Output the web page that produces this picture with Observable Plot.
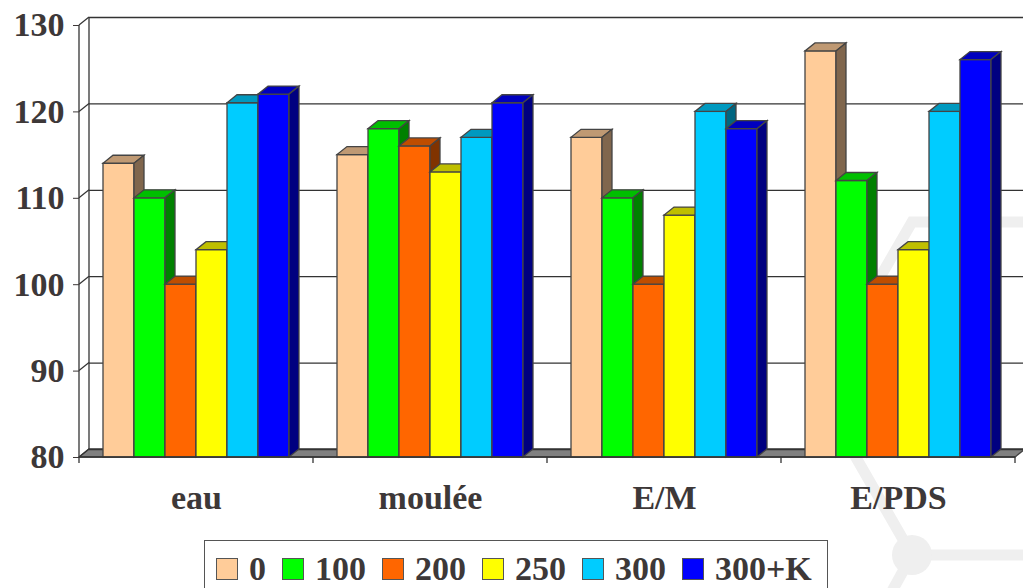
<!DOCTYPE html>
<html>
<head>
<meta charset="utf-8">
<script src="https://cdn.jsdelivr.net/npm/d3@7"></script>
<script src="https://cdn.jsdelivr.net/npm/@observablehq/plot@0.6"></script>
<style>
  html, body { margin: 0; padding: 0; background: #fff; }
  #wrap { position: relative; width: 1023px; height: 588px; overflow: hidden;
          font-family: "Liberation Serif", "Times New Roman", serif; }
  #wm { position: absolute; left: 0; top: 0; }
  #chart { position: absolute; left: 0; top: 0; }
  #legend { position: absolute; left: 204px; top: 540px; width: 624px; height: 70px;
            box-sizing: border-box; border: 1.5px solid #555; background: #fff;
            display: flex; align-items: flex-start; padding: 11px 0 0 11px;
            font-family: "Liberation Serif", serif; font-weight: bold; font-size: 34px;
            color: #3d3838; line-height: 34px; }
  .item { display: flex; align-items: center; margin-right: 16px; }
  .sw { width: 22px; height: 22px; box-sizing: border-box; border: 1.5px solid #555; margin-right: 11px; }
</style>
</head>
<body>
<div id="wrap">
  <svg id="wm" width="1023" height="588">
    <g fill="none" stroke="#efefef" stroke-width="11">
      <polygon points="912,222 816,388 912,555 1104,555 1200,388 1104,222"></polygon>
      <line x1="912" y1="555" x2="876" y2="620"></line>
    </g>
    <circle cx="912" cy="555" r="20" fill="#efefef"></circle>
  </svg>
  <div id="chart"></div>
  <div id="legend"></div>
</div>
<script>
// ---- data ----
const categories = ["eau", "moulée", "E/M", "E/PDS"];
const series = ["0", "100", "200", "250", "300", "300+K"];
const s0    = [114, 115, 117, 127];
const s100  = [110, 118, 110, 112];
const s200  = [100, 116, 100, 100];
const s250  = [104, 113, 108, 104];
const s300  = [121, 117, 120, 120];
const s300K = [122, 121, 118, 126];
const colors = ["#FFCC99", "#00FF00", "#FF6600", "#FFFF00", "#00CCFF", "#0000FF"];
const yTicks = [80, 90, 100, 110, 120, 130];

const seriesValues = [s0, s100, s200, s250, s300, s300K];
const table = [];
categories.forEach((c, i) => {
  series.forEach((s, j) => table.push({category: c, series: s, value: seriesValues[j][i]}));
});
const yMin = yTicks[0], yMax = yTicks[yTicks.length - 1];
const DX = 10, DY = -8;
const ink = "#3d3838";

const plot = Plot.plot({
  width: 1023,
  height: 530,
  marginLeft: 78,
  marginRight: 7,
  marginTop: 25,
  marginBottom: 73,
  style: {fontFamily: "Liberation Serif, serif", fontWeight: "bold", fontSize: "34px",
          color: ink, background: "transparent", overflow: "visible"},
  fx: {domain: categories, padding: 0, label: null, axis: "bottom", tickSize: 0, tickPadding: 27},
  x: {domain: series, paddingInner: 0, paddingOuter: 0.76, axis: null},
  y: {domain: [yMin, yMax], ticks: yTicks, tickSize: 6, tickPadding: 9, label: null},
  color: {domain: series, range: colors},
  marks: [
    Plot.ruleY(yTicks, {dx: DX, dy: DY, stroke: "#333", strokeWidth: 1.3}),
    Plot.barY(table, {fx: "category", x: "series", y1: () => yMin, y2: "value",
                      fill: "series", stroke: "#444", strokeWidth: 1.3})
  ]
});
document.getElementById("chart").appendChild(plot);

// ---- 3D decorations, positioned from the plot's own scales ----
const svg = d3.select(plot);
const y = plot.scale("y");
const fx = plot.scale("fx");
const xL = fx.apply(categories[0]);
const xR = fx.apply(categories[categories.length - 1]) + fx.bandwidth;
const yb = y.apply(yMin), yt = y.apply(yMax);

const walls = svg.insert("g", "g").attr("stroke", "#333").attr("stroke-width", 1.3);
walls.append("polygon")
  .attr("points", `${xL},${yb} ${xR},${yb} ${xR + DX},${yb + DY} ${xL + DX},${yb + DY}`)
  .attr("fill", "#808080").attr("stroke", "#444");
walls.append("line").attr("x1", xL + DX).attr("x2", xL + DX)
  .attr("y1", yt + DY).attr("y2", yb + DY);
walls.append("line").attr("x1", xL).attr("x2", xL).attr("y1", yt).attr("y2", yb);
yTicks.forEach(t => {
  const yy = y.apply(t);
  walls.append("line").attr("x1", xL).attr("y1", yy).attr("x2", xL + DX).attr("y2", yy + DY);
});

const ns = "http://www.w3.org/2000/svg";
svg.selectAll("g[aria-label='bar'] rect").each(function() {
  const x = +this.getAttribute("x"), yy = +this.getAttribute("y");
  const w = +this.getAttribute("width"), h = +this.getAttribute("height");
  const c = d3.rgb(this.getAttribute("fill"));
  const top = d3.rgb(c.r * 0.75, c.g * 0.75, c.b * 0.75).formatHex();
  const side = d3.rgb(c.r * 0.5, c.g * 0.5, c.b * 0.5).formatHex();
  const topP = document.createElementNS(ns, "polygon");
  topP.setAttribute("points", `${x},${yy} ${x + w},${yy} ${x + w + DX},${yy + DY} ${x + DX},${yy + DY}`);
  topP.setAttribute("fill", top);
  const sideP = document.createElementNS(ns, "polygon");
  sideP.setAttribute("points", `${x + w},${yy} ${x + w + DX},${yy + DY} ${x + w + DX},${yy + h + DY} ${x + w},${yy + h}`);
  sideP.setAttribute("fill", side);
  this.after(topP, sideP);
});

const front = svg.append("g").attr("stroke", "#333").attr("stroke-width", 1.3);
front.append("line").attr("x1", xL).attr("x2", xR).attr("y1", yb).attr("y2", yb);
categories.forEach(c => {
  const xx = fx.apply(c);
  front.append("line").attr("x1", xx).attr("x2", xx).attr("y1", yb).attr("y2", yb + 6);
});
front.append("line").attr("x1", xR).attr("x2", xR).attr("y1", yb).attr("y2", yb + 6);

// ---- legend ----
const legend = d3.select("#legend");
series.forEach((s, j) => {
  const it = legend.append("div").attr("class", "item");
  it.append("div").attr("class", "sw").style("background", colors[j]);
  it.append("span").text(s);
});
</script>
</body>
</html>
